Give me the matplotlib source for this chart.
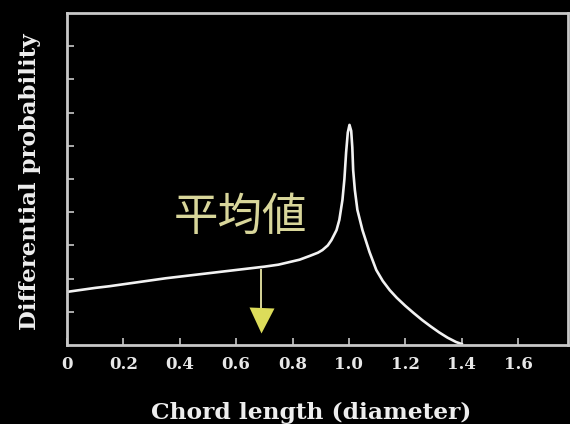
import matplotlib.pyplot as plt

# chord length distribution
chord = [0.00, 0.05, 0.10, 0.15, 0.20, 0.25, 0.30, 0.35, 0.40, 0.45, 0.50,
         0.55, 0.60, 0.65, 0.70, 0.75, 0.80, 0.825, 0.86, 0.89, 0.906, 0.925,
         0.938, 0.956, 0.966, 0.977, 0.984, 0.990, 0.996, 1.002, 1.008,
         1.012, 1.015, 1.021, 1.030, 1.048, 1.073, 1.097, 1.12, 1.145, 1.17,
         1.20, 1.23, 1.26, 1.29, 1.32, 1.35, 1.38, 1.40]
prob = [1.60, 1.66, 1.72, 1.77, 1.83, 1.89, 1.95, 2.01, 2.06, 2.11, 2.16,
        2.21, 2.26, 2.31, 2.36, 2.42, 2.52, 2.57, 2.68, 2.78, 2.86, 3.00,
        3.16, 3.46, 3.77, 4.37, 5.00, 5.80, 6.40, 6.63, 6.45,
        5.95, 5.27, 4.67, 4.07, 3.46, 2.80, 2.26, 1.93, 1.65, 1.42,
        1.18, 0.96, 0.75, 0.56, 0.38, 0.22, 0.09, 0.03]
mean_x = 0.687
xticks = [0, 0.2, 0.4, 0.6, 0.8, 1.0, 1.2, 1.4, 1.6]
xlabels = ['0', '0.2', '0.4', '0.6', '0.8', '1.0', '1.2', '1.4', '1.6']

fig = plt.figure(figsize=(5.7, 4.24), dpi=100, facecolor='black')
ax = fig.add_axes([0.1175, 0.1863, 0.879, 0.783], facecolor='black')

ax.plot(chord, prob, color='#f2f2f2', lw=1.9, solid_joinstyle='round')

# mean marker
ax.plot([mean_x, mean_x], [2.27, 1.0], color='#d8d69a', lw=1.4)
ax.plot([mean_x], [0.75], marker='v', markersize=18, color='#dcdc5a', mec='none')
ax.text(0.616, 3.86, '平均値', color='#d8d69a', fontsize=32,
        family=['Noto Sans CJK JP', 'DejaVu Sans'], ha='center', va='center')

ax.set_xlim(0, 1.777)
ax.set_ylim(0, 10)
ax.set_xticks(xticks)
ax.set_xticklabels(xlabels, family='DejaVu Serif', fontweight='bold',
                   fontsize=12, color='#e8e8e8')
ax.set_yticks(range(1, 10))
ax.set_yticklabels([])
ax.tick_params(direction='in', length=5, width=1.2, color='#c8c8c8', pad=8)
for s in ax.spines.values():
    s.set_color('#c8c8c8')
    s.set_linewidth(2)

fig.text(311 / 570, 0.012, 'Chord length (diameter)', family='DejaVu Serif',
         fontweight='bold', fontsize=16.8, color='#eeeeee', ha='center', va='baseline')
fig.text(30 / 570, 0.571, 'Differential probability', family='DejaVu Serif',
         fontweight='bold', fontsize=16.5, color='#eeeeee', ha='center',
         va='center', rotation=90)

fig.savefig('out.png', dpi=100, facecolor='black')
